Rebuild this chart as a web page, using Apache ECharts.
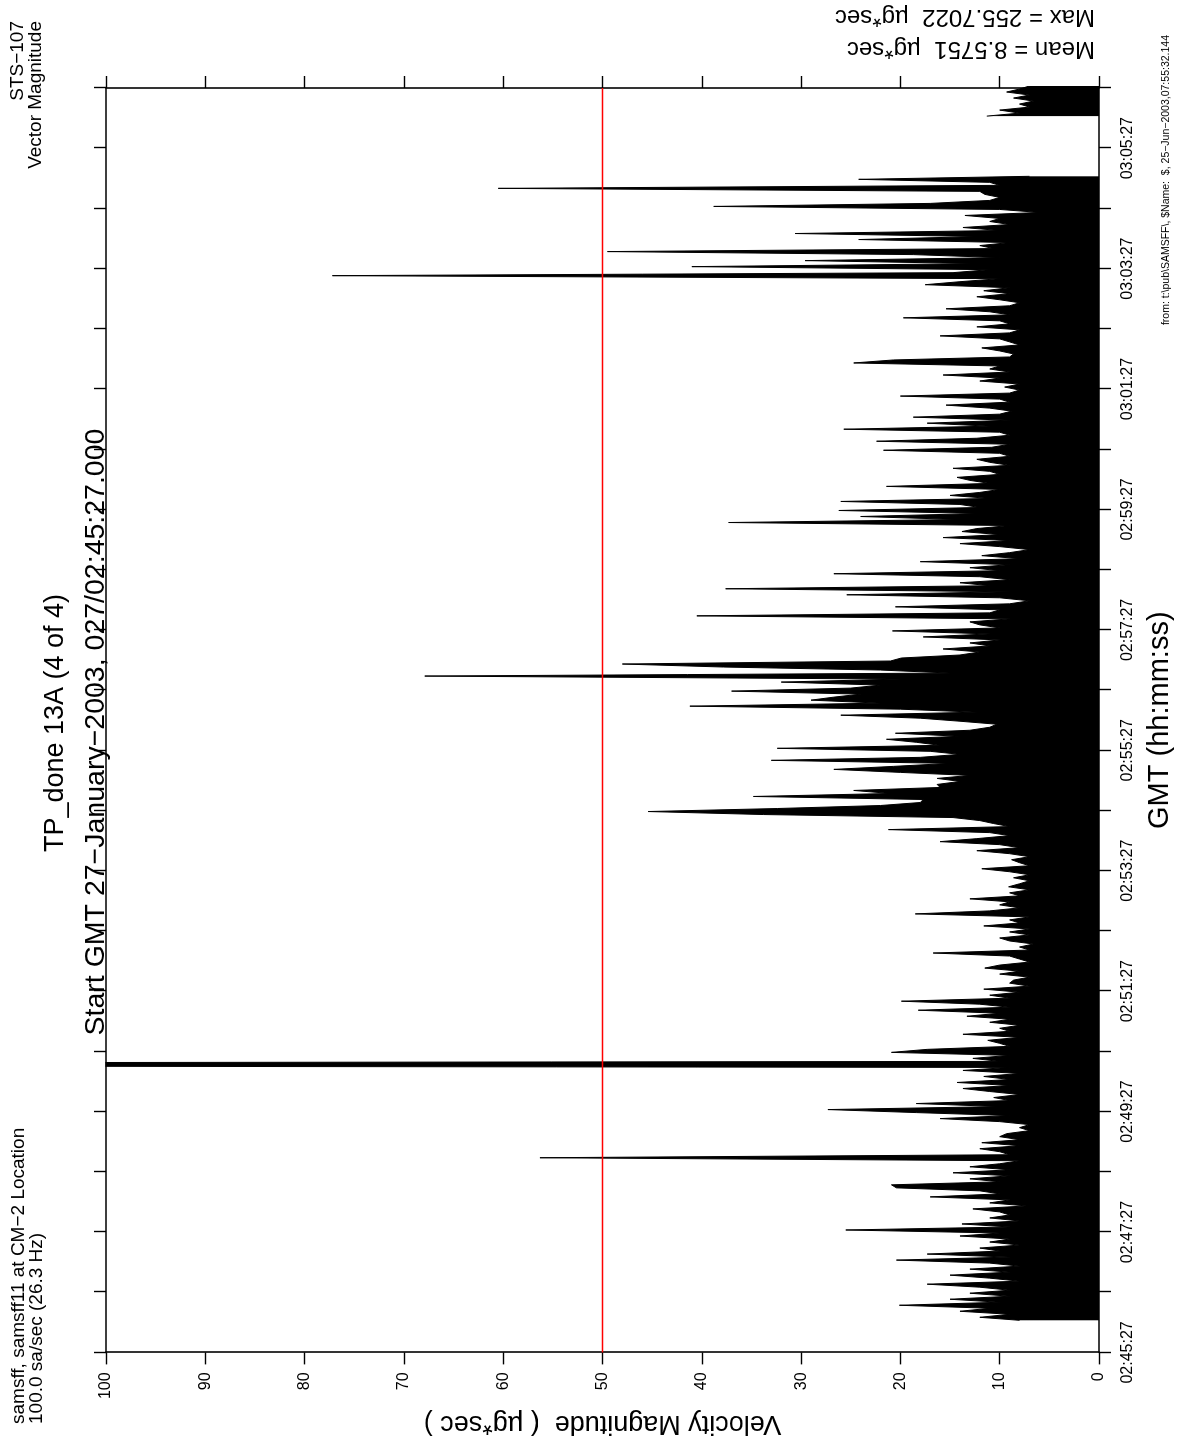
<!DOCTYPE html>
<html>
<head>
<meta charset="utf-8">
<script src="https://cdn.jsdelivr.net/npm/echarts@6/dist/echarts.min.js"></script>
<style>
html,body{margin:0;padding:0;background:#fff;}
body{width:1180px;height:1445px;overflow:hidden;position:relative;}
#chart{position:absolute;left:0;top:0;width:1445px;height:1180px;transform-origin:0 0;transform:translateY(1445px) rotate(-90deg);}
</style>
</head>
<body>
<div id="chart"></div>
<script>
// ---- data ----
const startClockSec = 2 * 3600 + 45 * 60 + 27;   // 02:45:27
const axisSpanSec = 1260;                          // 21 minutes shown
const sampleStartSec = 32;                         // first sample, seconds after 02:45:27
const sampleStepSec = 3;
// velocity magnitude (ug*sec); null = no data
const velocity = [
  8, 12, 9, 14, 11, 20.1, 10, 15, 9, 13,
  9, 12, 17.3, 8, 11, 15, 9, 13, 8, 11,
  20.4, 9, 17.3, 10, 12, 8, 11, 9, 14, 10,
  25.5, 9, 13.8, 8, 11, 9, 10, 12.7, 7.3, 11,
  9, 17, 10, 12, 20.4, 20.9, 10, 13, 9, 14.7,
  9, 13, 10, 8, 56.3, 9, 10, 12, 8, 11.8,
  8, 10, 9.3, 7, 8, 7, 10, 16, 9, 18.4,
  27.3, 10, 18.4, 9, 10.6, 8, 11, 13.7, 9, 14.3,
  9, 11.6, 8, 13.7, 9, 255.7, 10, 12.7, 9, 20.9,
  17.3, 9, 10, 11.2, 8, 13.7, 9, 10, 8, 11,
  9, 13.3, 10, 18.2, 9, 12, 19.9, 9, 11, 8,
  11.6, 7, 9, 8.6, 7, 10, 8, 11.5, 10, 7,
  8, 9, 16.7, 7, 8, 6.6, 9, 10, 7, 9,
  7, 11.6, 8, 9, 7, 18.5, 11, 8, 10, 9,
  13, 8, 9, 7, 9.1, 8, 7, 8.6, 7, 9,
  11.8, 7, 8, 8.8, 7, 9, 12.3, 8, 10, 16,
  12.3, 9, 11, 21.2, 9, 10.6, 12, 14.7, 33.8, 45.4,
  32.4, 22, 18, 17.7, 34.8, 21, 24.7, 16, 16.3, 14,
  16.3, 13, 20, 26.7, 20.7, 15, 33, 18, 14, 17,
  32.4, 16, 18.4, 21.4, 14, 20.5, 13, 11, 10.3, 14,
  18, 26, 12.3, 20, 41.2, 22, 29, 26.7, 24, 37,
  25, 22, 32, 20, 67.9, 15, 22, 37.8, 48, 21,
  19.9, 14, 12, 15.7, 11, 13, 10, 17.7, 11, 20.8,
  10, 12, 13, 9, 40.5, 11, 10, 20.5, 9, 7,
  10, 25.4, 9, 37.6, 11, 14, 9, 12, 26.7, 10,
  13, 9, 18, 8, 11.8, 9, 7, 10, 14, 9,
  15.7, 10, 13.8, 12.3, 9, 37.3, 14, 24, 12, 26.2,
  12, 14, 26, 11, 15, 12, 10, 21.4, 11, 13,
  14.3, 10, 11, 14.7, 9, 11, 12.3, 9, 10, 21.7,
  10.8, 9, 22.4, 12.3, 9, 10, 25.7, 11, 17.3, 9,
  18.7, 10, 8.8, 11, 15.4, 9, 10, 20, 9, 8,
  9.5, 8, 12, 10, 15.7, 9, 11, 10, 24.7, 20.7,
  9, 8.6, 10, 11.8, 8, 9, 10, 16, 9, 8,
  12.3, 9, 10, 19.7, 9, 11, 15.4, 9, 8, 10,
  12.3, 9, 11.6, 9, 17.5, 14, 10, 77.2, 14.7, 11,
  41, 12, 29.6, 10, 18.7, 49.5, 10.6, 12, 9, 24.2,
  12, 30.6, 10, 13.7, 9, 11, 10, 13.5, 6, 10,
  38.8, 17, 11, 10, 11.5, 12, 60.5, 10, 11, 24.2,
  7, null, null, null, null, null, null, null, null, null,
  null, null, null, null, null, null, null, null, null, null,
  11.3, 8, 10, 7, 8, 6.6, 8.6, 7, 9.3, 8,
  7, 9
];
const thresholdValue = 50;
const valueMin = 0, valueMax = 100, valueStep = 10;
const titleLines = ['TP_done 13A (4 of 4)', 'Start GMT 27\u2212January\u22122003, 027/02:45:27.000'];
const leftHeader = ['samsff, samsff11 at CM\u22122 Location', '100.0 sa/sec (26.3 Hz)'];
const rightHeader = ['STS\u2212107', 'Vector Magnitude'];
const statLines = ['Mean = 8.5751  \u00b5g*sec', 'Max = 255.7022  \u00b5g*sec'];
const footerText = 'from: t:\\pub\\SAMSFF\\, $Name:  $, 25\u2212Jun\u22122003,07:55:32.144';
const xName = 'GMT (hh:mm:ss)';
const yName = 'Velocity Magnitude  ( \u00b5g*sec )';

// ---- chart ----
const FONT = '"Liberation Sans", Arial, Helvetica, sans-serif';
function clock(sec) {
  const s = Math.round(startClockSec + sec);
  const hh = Math.floor(s / 3600), mm = Math.floor((s % 3600) / 60), ss = s % 60;
  const p = n => (n < 10 ? '0' : '') + n;
  return p(hh) + ':' + p(mm) + ':' + p(ss);
}
const seriesData = velocity.map((v, i) => [sampleStartSec + i * sampleStepSec, v]);

const axisLine = { show: true, onZero: false, lineStyle: { color: '#000', width: 1.6 } };
const axisTick = { show: true, inside: false, length: 12, lineStyle: { color: '#000', width: 1.4 } };

function txt(x, y, text, size, align, rot) {
  const el = {
    type: 'text', x: x, y: y, silent: true,
    style: { text: text, font: size + 'px ' + FONT, fill: '#000',
             textAlign: align, textVerticalAlign: 'middle', align: align, verticalAlign: 'middle' }
  };
  if (rot) el.rotation = rot;
  return el;
}

const chart = echarts.init(document.getElementById('chart'));
chart.setOption({
  animation: false,
  backgroundColor: '#ffffff',
  textStyle: { fontFamily: FONT },
  grid: { left: 88, right: 88, top: 106, bottom: 81 },
  xAxis: [
    {
      type: 'value', position: 'bottom', min: 0, max: axisSpanSec, interval: 60,
      axisLine, axisTick, splitLine: { show: false },
      axisLabel: {
        color: '#000', fontSize: 16, fontFamily: FONT, margin: 21,
        showMinLabel: true, showMaxLabel: true,
        formatter: v => (Math.round(v / 60) % 2 === 0 ? clock(v) : '')
      },
      name: xName, nameLocation: 'middle', nameGap: 46,
      nameTextStyle: { color: '#000', fontSize: 29, fontFamily: FONT }
    },
    {
      type: 'value', position: 'top', min: 0, max: axisSpanSec, interval: 60,
      axisLine, axisTick, splitLine: { show: false }, axisLabel: { show: false }
    }
  ],
  yAxis: [
    {
      type: 'value', position: 'left', min: valueMin, max: valueMax, interval: valueStep,
      axisLine, axisTick, splitLine: { show: false },
      axisLabel: { color: '#000', fontSize: 16, fontFamily: FONT, margin: 20 },
      name: yName, nameLocation: 'middle', nameGap: 48,
      nameTextStyle: { color: '#000', fontSize: 27, fontFamily: FONT }
    },
    {
      type: 'value', position: 'right', min: valueMin, max: valueMax, interval: valueStep,
      axisLine, axisTick, splitLine: { show: false }, axisLabel: { show: false }
    }
  ],
  series: [
    {
      type: 'line', xAxisIndex: 0, yAxisIndex: 0,
      data: seriesData, showSymbol: false, symbol: 'none', connectNulls: false,
      clip: true, sampling: null, silent: true,
      lineStyle: { color: '#000', width: 1 },
      areaStyle: { color: '#000', opacity: 1, origin: 'start' },
      markLine: {
        silent: true, symbol: 'none', animation: false,
        label: { show: false },
        lineStyle: { color: '#ff0000', width: 1.3, type: 'solid' },
        data: [{ yAxis: thresholdValue }]
      }
    }
  ],
  graphic: [
    txt(722, 56, titleLines[0], 27, 'center'),
    txt(713, 96, titleLines[1], 28.5, 'center'),
    txt(21, 19, leftHeader[0], 19, 'left'),
    txt(21, 37, leftHeader[1], 19, 'left'),
    txt(1424, 18, rightHeader[0], 19, 'right'),
    txt(1424, 36, rightHeader[1], 19, 'right'),
    txt(1396, 1095, statLines[0], 24, 'left', Math.PI / 2),
    txt(1428, 1095, statLines[1], 24, 'left', Math.PI / 2),
    txt(1410, 1166, footerText, 10.5, 'right')
  ]
});
</script>
</body>
</html>
